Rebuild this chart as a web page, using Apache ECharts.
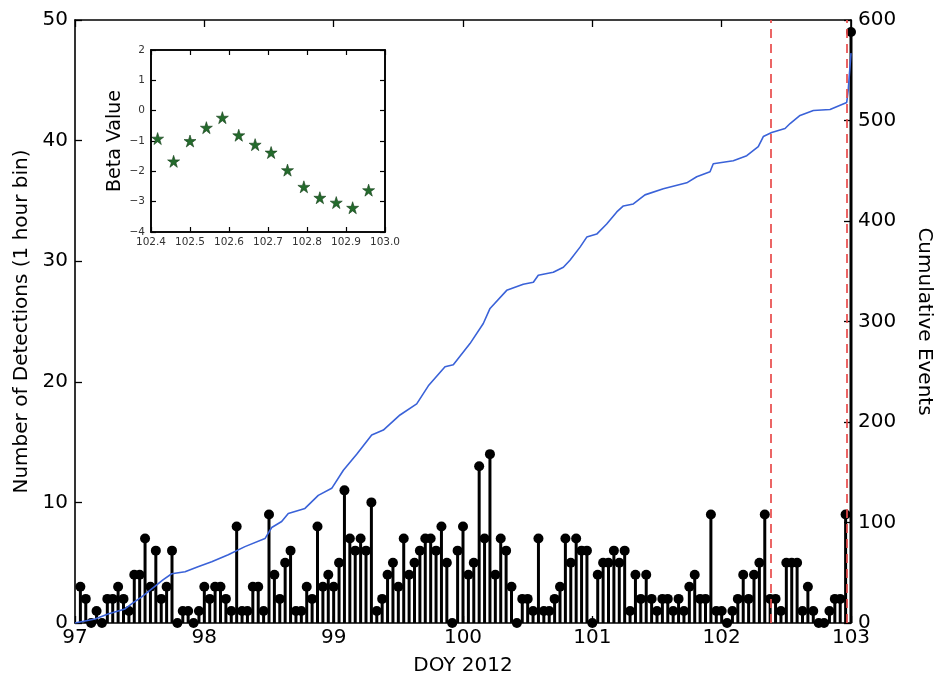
<!DOCTYPE html>
<html>
<head>
<meta charset="utf-8">
<script src="https://cdn.jsdelivr.net/npm/echarts@6/dist/echarts.min.js"></script>
<style>
html,body{margin:0;padding:0;background:#fff;}
#chart{width:937px;height:683px;}
</style>
</head>
<body>
<div id="chart"></div>
<script>
// Hourly detection counts, DOY 97 -> 103 (144 one-hour bins)
const stemCounts = [
  3,2,0,1,0,2,2,3,2,1,4,4,7,3,6,2,3,6,0,1,1,0,1,3,
  2,3,3,2,1,8,1,1,3,3,1,9,4,2,5,6,1,1,3,2,8,3,4,3,
  5,11,7,6,7,6,10,1,2,4,5,3,7,4,5,6,7,7,6,8,5,0,6,8,
  4,5,13,7,14,4,7,6,3,0,2,2,1,7,1,1,2,3,7,5,7,6,6,0,
  4,5,5,6,5,6,1,4,2,4,2,1,2,2,1,2,1,3,4,2,2,9,1,1,
  0,1,2,4,2,4,5,9,2,2,1,5,5,5,1,3,1,0,0,1,2,2,9,49
];
const startDOY = 97;
const hoursPerDay = 24;

// Cumulative events [DOY, count]
const cumDOY = [97.000,97.155,97.255,97.387,97.448,97.516,97.603,97.680,97.748,97.851,97.951,
  98.057,98.185,98.314,98.469,98.521,98.598,98.649,98.778,98.881,98.985,
  99.075,99.178,99.294,99.384,99.513,99.642,99.732,99.861,99.925,
  100.054,100.157,100.209,100.338,100.466,100.544,100.582,100.698,100.776,100.827,100.905,100.957,
  101.034,101.111,101.189,101.240,101.317,101.407,101.549,101.730,101.807,101.910,101.935,
  102.090,102.194,102.283,102.322,102.387,102.490,102.529,102.606,102.709,102.838,102.967,102.979,103.0];
const cumEvents = [0,4,9,14,20,26,35,43,49,51,56,
  61,68,76,84,95,101,109,114,127,134,
  152,168,187,192,207,218,236,255,257,
  278,298,313,331,337,339,346,349,354,361,374,384,
  387,397,409,415,417,426,432,438,444,449,457,
  460,465,474,484,488,492,497,505,510,511,518,531,567];

// Event markers (red dashed lines)
const eventLines = [102.38, 102.97];

// Inset: Beta values
const betaDOY = [102.417,102.458,102.500,102.542,102.583,102.625,102.667,102.708,102.750,102.792,102.833,102.875,102.917,102.958];
const betaValue = [-0.92,-1.67,-1.0,-0.56,-0.23,-0.81,-1.12,-1.38,-1.96,-2.51,-2.87,-3.03,-3.20,-2.62];

const stemData = stemCounts.map((v, i) => [startDOY + (i + 1) / hoursPerDay, v]);
const cumData = cumDOY.map((d, i) => [d, cumEvents[i]]);
const betaData = betaDOY.map((d, i) => [d, betaValue[i]]);

const FONT = 'DejaVu Sans';
const starPath = 'path://M50,0 L61.8,35.4 L100,35.4 L69.1,57.3 L80.9,92.7 L50,70.8 L19.1,92.7 L30.9,57.3 L0,35.4 L38.2,35.4 Z';

// Inset frame layout (pixels)
const inset = {left: 151, top: 50, width: 234, height: 182};

const chart = echarts.init(document.getElementById('chart'), null, {renderer: 'canvas'});
const mkLine = () => ({show: true, onZero: false, lineStyle: {color: '#000', width: 1.6}});
const mainTick = () => ({show: true, inside: true, length: 7, lineStyle: {color: '#000', width: 1.3}});
const insetTick = () => ({show: true, inside: true, length: 5, lineStyle: {color: '#000', width: 1.2}});
const option = {
  animation: false,
  backgroundColor: '#fff',
  textStyle: {fontFamily: FONT},
  grid: [
    {left: 75, right: 86, top: 20, bottom: 60, show: false, containLabel: false, outerBoundsMode: 'none'},
    {left: inset.left, top: inset.top, width: inset.width, height: inset.height, show: false, containLabel: false, outerBoundsMode: 'none'}
  ],
  graphic: [
    {type: 'rect', z: 100, silent: true,
     shape: {x: inset.left, y: inset.top, width: inset.width, height: inset.height},
     style: {fill: 'none', stroke: '#000', lineWidth: 1.6}}
  ],
  xAxis: [
    {type: 'value', gridIndex: 0, min: 97, max: 103, interval: 1, position: 'bottom',
     axisLine: mkLine(), axisTick: mainTick(),
     axisLabel: {fontSize: 20, color: '#000', margin: 5, fontFamily: FONT},
     splitLine: {show: false},
     name: 'DOY 2012', nameLocation: 'middle', nameGap: 33,
     nameTextStyle: {fontSize: 20, color: '#000', fontFamily: FONT}},
    {type: 'value', gridIndex: 0, min: 97, max: 103, interval: 1, position: 'top',
     axisLine: mkLine(), axisTick: mainTick(),
     axisLabel: {show: false}, splitLine: {show: false}},
    {type: 'value', gridIndex: 1, min: 102.4, max: 103.0, interval: 0.1, position: 'bottom',
     axisLine: mkLine(), axisTick: insetTick(),
     axisLabel: {fontSize: 10.5, color: '#333', margin: 5, fontFamily: FONT, formatter: v => v.toFixed(1)},
     splitLine: {show: false}},
    {type: 'value', gridIndex: 1, min: 102.4, max: 103.0, interval: 0.1, position: 'top',
     axisLine: mkLine(), axisTick: insetTick(),
     axisLabel: {show: false}, splitLine: {show: false}}
  ],
  yAxis: [
    {type: 'value', gridIndex: 0, min: 0, max: 50, interval: 10, position: 'left',
     axisLine: mkLine(), axisTick: mainTick(),
     axisLabel: {fontSize: 20, color: '#000', margin: 7, fontFamily: FONT},
     splitLine: {show: false},
     name: 'Number of Detections (1 hour bin)', nameLocation: 'middle', nameGap: 42,
     nameTextStyle: {fontSize: 20, color: '#000', fontFamily: FONT}},
    {type: 'value', gridIndex: 0, min: 0, max: 600, interval: 100, position: 'right',
     axisLine: mkLine(), axisTick: mainTick(),
     axisLabel: {fontSize: 20, color: '#000', margin: 7, fontFamily: FONT},
     splitLine: {show: false},
     name: 'Cumulative Events', nameLocation: 'middle', nameGap: 63, nameRotate: -90,
     nameTextStyle: {fontSize: 20, color: '#000', fontFamily: FONT}},
    {type: 'value', gridIndex: 1, min: -4, max: 2, interval: 1, position: 'left',
     axisLine: mkLine(), axisTick: insetTick(),
     axisLabel: {fontSize: 10.5, color: '#333', margin: 6, fontFamily: FONT,
       formatter: v => (v < 0 ? '\u2212' + Math.abs(v) : String(v))},
     splitLine: {show: false},
     name: 'Beta Value', nameLocation: 'middle', nameGap: 26,
     nameTextStyle: {fontSize: 19, color: '#000', fontFamily: FONT}},
    {type: 'value', gridIndex: 1, min: -4, max: 2, interval: 1, position: 'right',
     axisLine: mkLine(), axisTick: insetTick(),
     axisLabel: {show: false}, splitLine: {show: false}}
  ],
  series: [
    {type: 'bar', xAxisIndex: 0, yAxisIndex: 0, data: stemData, barWidth: 3,
     itemStyle: {color: '#000', opacity: 1}, z: 2, silent: true,
     markLine: {silent: true, symbol: 'none', label: {show: false},
       lineStyle: {color: '#e84a4a', width: 2, type: [9, 6], opacity: 0.85},
       data: eventLines.map(x => ({xAxis: x})), z: 5}},
    {type: 'scatter', xAxisIndex: 0, yAxisIndex: 0, data: stemData, symbol: 'circle', symbolSize: 10,
     clip: true, itemStyle: {color: '#000', opacity: 1}, z: 3, silent: true},
    {type: 'line', xAxisIndex: 0, yAxisIndex: 1, data: cumData, showSymbol: false, symbol: 'none',
     lineStyle: {color: '#3a62d8', width: 1.6}, z: 4, silent: true},
    {type: 'scatter', xAxisIndex: 2, yAxisIndex: 2, data: betaData, symbol: starPath, symbolSize: 12,
     itemStyle: {color: '#246b2c', borderColor: '#123d17', borderWidth: 0.6, opacity: 1}, z: 12, silent: true}
  ]
};
chart.setOption(option);
</script>
</body>
</html>
